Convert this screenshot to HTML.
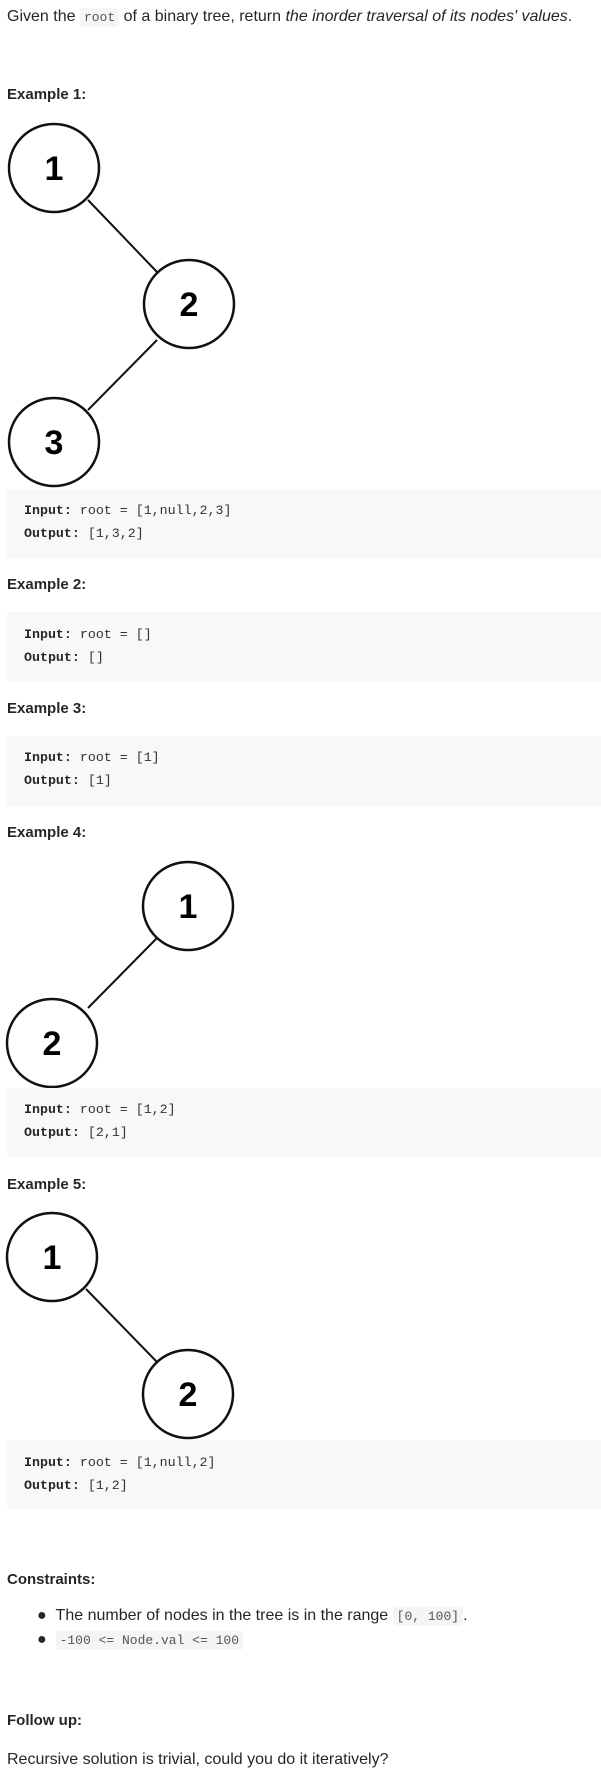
<!DOCTYPE html>
<html><head><meta charset="utf-8"><style>
body{margin:0;width:601px;height:1778px;position:relative;background:#fff;font-family:"Liberation Sans",sans-serif;color:#262626;overflow:hidden}
.a{position:absolute;white-space:nowrap}
.t{font-size:16px}
.h{font-size:15px;font-weight:bold;color:#262626}
.blk{position:absolute;left:7px;width:594px;background:#f7f8fa}
.m{font-family:"Liberation Mono",monospace;font-size:13.3px;color:#333}
.m b{color:#262626}
code{font-family:"Liberation Mono",monospace;font-size:13px;background:#f4f5f6;color:#555;padding:2px 4px;border-radius:3px}
svg{position:absolute;left:0}
svg text{font-family:"Liberation Sans",sans-serif;font-weight:bold;font-size:34px;text-anchor:middle}
</style></head><body>
<div class="a t" style="left:7px;top:8px">Given the <code>root</code> of a binary tree, return <i>the inorder traversal of its nodes' values</i>.</div>

<div class="a h" style="left:7px;top:86px">Example 1:</div>
<svg width="260" height="380" style="top:120px">
<line x1="88" y1="80" x2="157" y2="152" stroke="#111" stroke-width="2"/>
<line x1="157" y1="220" x2="88" y2="290" stroke="#111" stroke-width="2"/>
<ellipse cx="54" cy="48" rx="45" ry="44" fill="#fff" stroke="#111" stroke-width="2.5"/>
<ellipse cx="189" cy="184" rx="45" ry="44" fill="#fff" stroke="#111" stroke-width="2.5"/>
<ellipse cx="54" cy="322" rx="45" ry="44" fill="#fff" stroke="#111" stroke-width="2.5"/>
<text x="54" y="60">1</text><text x="189" y="196">2</text><text x="54" y="334">3</text>
</svg>
<div class="blk" style="top:489px;height:70px"></div>
<div class="a m" style="left:24px;top:503px"><b>Input:</b> root = [1,null,2,3]</div>
<div class="a m" style="left:24px;top:526px"><b>Output:</b> [1,3,2]</div>

<div class="a h" style="left:7px;top:576px">Example 2:</div>
<div class="blk" style="top:612px;height:69px"></div>
<div class="a m" style="left:24px;top:627px"><b>Input:</b> root = []</div>
<div class="a m" style="left:24px;top:650px"><b>Output:</b> []</div>

<div class="a h" style="left:7px;top:700px">Example 3:</div>
<div class="blk" style="top:736px;height:70px"></div>
<div class="a m" style="left:24px;top:750px"><b>Input:</b> root = [1]</div>
<div class="a m" style="left:24px;top:773px"><b>Output:</b> [1]</div>

<div class="a h" style="left:7px;top:824px">Example 4:</div>
<svg width="260" height="240" style="top:850px">
<line x1="157" y1="88" x2="88" y2="158" stroke="#111" stroke-width="2"/>
<ellipse cx="188" cy="56" rx="45" ry="44" fill="#fff" stroke="#111" stroke-width="2.5"/>
<ellipse cx="52" cy="193" rx="45" ry="44" fill="#fff" stroke="#111" stroke-width="2.5"/>
<text x="188" y="68">1</text><text x="52" y="205">2</text>
</svg>
<div class="blk" style="top:1088px;height:69px"></div>
<div class="a m" style="left:24px;top:1102px"><b>Input:</b> root = [1,2]</div>
<div class="a m" style="left:24px;top:1125px"><b>Output:</b> [2,1]</div>

<div class="a h" style="left:7px;top:1176px">Example 5:</div>
<svg width="260" height="240" style="top:1200px">
<line x1="86" y1="89" x2="157" y2="162" stroke="#111" stroke-width="2"/>
<ellipse cx="52" cy="57" rx="45" ry="44" fill="#fff" stroke="#111" stroke-width="2.5"/>
<ellipse cx="188" cy="194" rx="45" ry="44" fill="#fff" stroke="#111" stroke-width="2.5"/>
<text x="52" y="69">1</text><text x="188" y="206">2</text>
</svg>
<div class="blk" style="top:1440px;height:69px"></div>
<div class="a m" style="left:24px;top:1455px"><b>Input:</b> root = [1,null,2]</div>
<div class="a m" style="left:24px;top:1478px"><b>Output:</b> [1,2]</div>

<div class="a h" style="left:7px;top:1571px">Constraints:</div>
<div class="a t" style="left:37px;top:1607px">●&nbsp;&nbsp;The number of nodes in the tree is in the range <code>[0, 100]</code>.</div>
<div class="a t" style="left:37px;top:1631px">●&nbsp;&nbsp;<code>-100 &lt;= Node.val &lt;= 100</code></div>

<div class="a h" style="left:7px;top:1712px">Follow up:</div>
<div class="a t" style="left:7px;top:1751px">Recursive solution is trivial, could you do it iteratively?</div>
</body></html>
